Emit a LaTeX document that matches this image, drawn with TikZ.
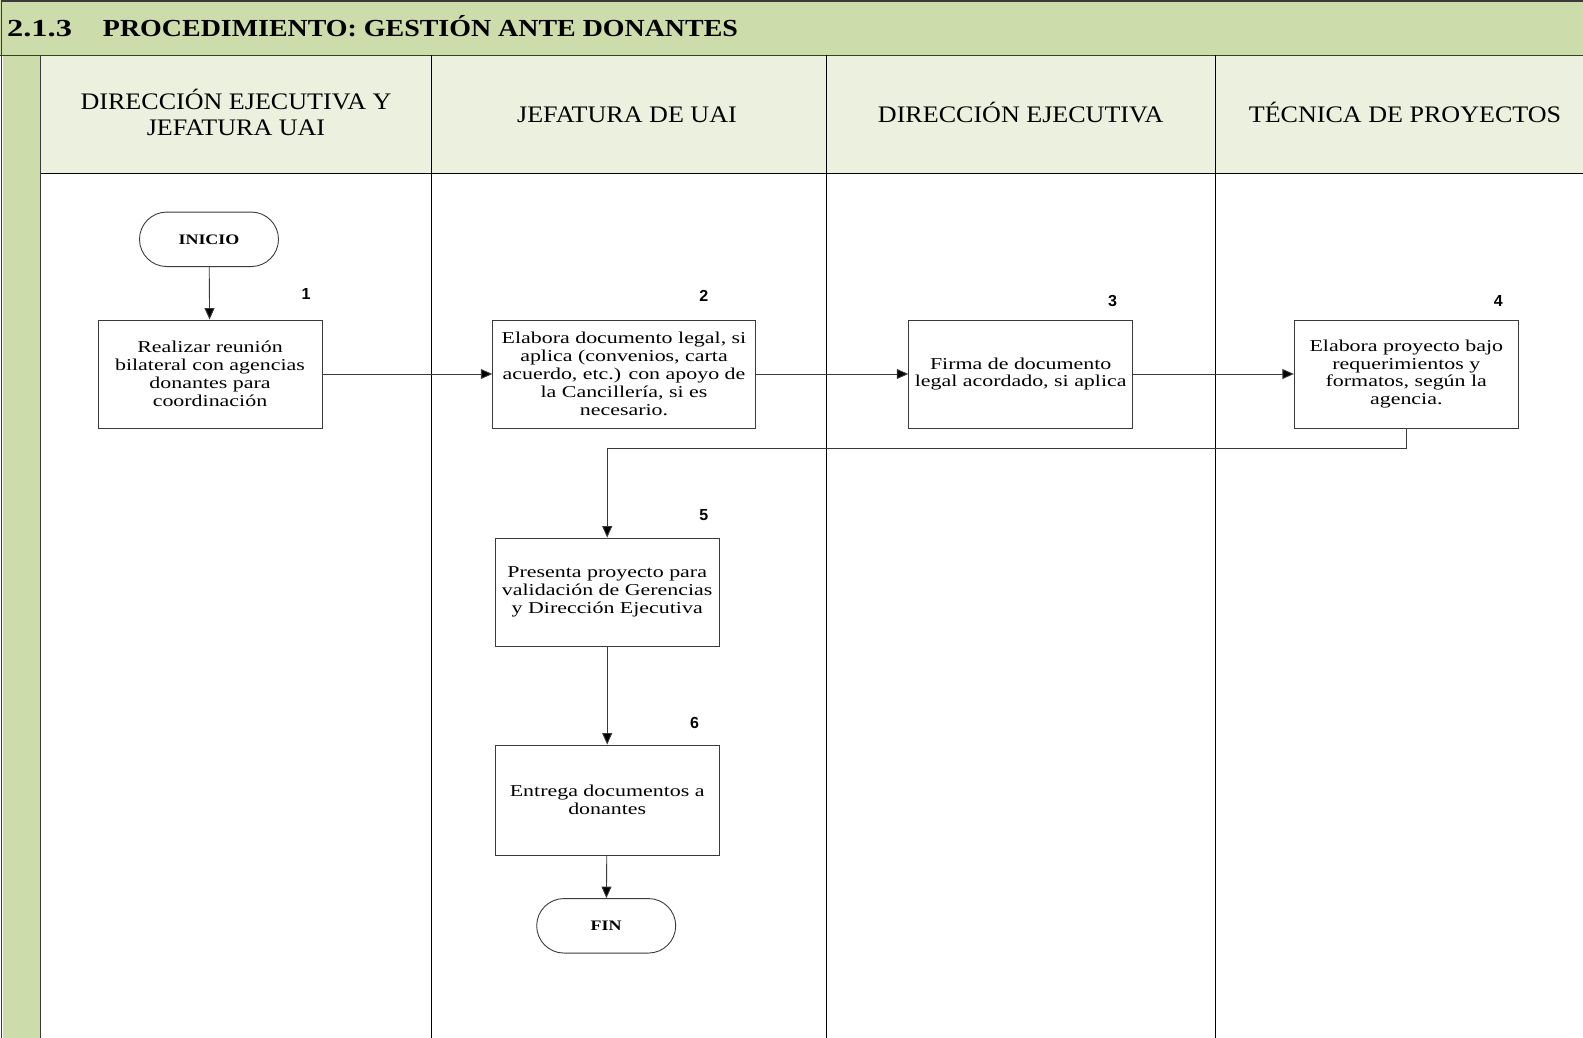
\documentclass[tikz,border=0pt]{standalone}
\usepackage{fontspec}
\setmainfont{Liberation Serif}
\newfontfamily\titlefont[FakeStretch=1.14]{Liberation Serif}
\newfontfamily\termfont[FakeStretch=1.24]{Liberation Serif}
\newfontfamily\headfont[FakeStretch=1.1]{Liberation Serif}
\newfontfamily\boxfont[FakeStretch=1.32]{Liberation Serif}
\newfontfamily\numfont{Liberation Sans}
\usetikzlibrary{arrows.meta,shapes.misc}
\definecolor{bargreen}{HTML}{CDDCAB}
\definecolor{headgreen}{HTML}{EBF1DE}
\definecolor{edge}{HTML}{3A3A3A}
\tikzset{
  frame/.style={draw=edge,line width=1.4pt},
  lane/.style={draw=black,line width=0.9pt},
  stepbox/.style={draw=edge,line width=0.9pt,rectangle,minimum width=224pt,minimum height=108pt,
    inner sep=2pt,align=center,font=\boxfont\fontsize{16.6}{17.9}\selectfont},
  terminal/.style={draw=edge,line width=0.9pt,rounded rectangle,minimum width=139pt,minimum height=54.5pt,
    inner sep=0pt,font=\termfont\bfseries\fontsize{14.5}{16}\selectfont},
  stepnum/.style={font=\numfont\bfseries\fontsize{16}{17}\selectfont,inner sep=0pt},
  lanehead/.style={align=center,inner sep=0pt,anchor=base,font=\headfont\fontsize{23.7}{26.3}\selectfont},
  arr/.style={draw=edge,line width=0.9pt,-{Triangle[length=11.5pt,width=10pt,fill=black]}}
}
\begin{document}
\begin{tikzpicture}[x=1pt,y=-1pt]
\useasboundingbox (0,0) rectangle (1583,1038);
% title bar, side strip and lane header band
\fill[bargreen] (0,0) rectangle (1583,55.5);
\fill[headgreen] (40.5,55.5) rectangle (1583,173.7);
\fill[bargreen] (2.5,55.5) rectangle (40.5,1038);
\draw[frame] (1.5,1.2) -- (1583,1.2);
\draw[frame] (1.5,0) -- (1.5,1038);
\draw[frame] (0,55.5) -- (1583,55.5);
\draw[frame] (40.5,55.5) -- (40.5,1038);
\draw[lane] (40.5,173.7) -- (1583,173.7);
\draw[lane] (431,55.5) -- (431,1038);
\draw[lane] (826,55.5) -- (826,1038);
\draw[lane] (1215.6,55.5) -- (1215.6,1038);
\node[anchor=base west,inner sep=0pt,font=\titlefont\bfseries\fontsize{24.5}{26}\selectfont] (title) at (7,36.5)
  {\scalebox{1.16}[1]{2.1.3}\hspace{31pt}PROCEDIMIENTO: GESTIÓN ANTE DONANTES};
% lane headings (base = baseline of the last line)
\node[lanehead] (h1) at (236,135.5) {DIRECCIÓN EJECUTIVA Y\\JEFATURA UAI};
\node[lanehead] (h2) at (627,123) {JEFATURA DE UAI};
\node[lanehead] (h3) at (1020.7,123) {DIRECCIÓN EJECUTIVA};
\node[lanehead] (h4) at (1405,123) {TÉCNICA DE PROYECTOS};
% flow steps
\node[terminal] (inicio) at (209,239.3) {INICIO};
\node[stepbox] (b1) at (210,374) {Realizar reunión\\bilateral con agencias\\donantes para\\coordinación};
\node[stepbox,minimum width=262.5pt] (b2) at (624,374) {Elabora documento legal, si\\aplica (convenios, carta\\acuerdo, etc.) con apoyo de\\la Cancillería, si es\\necesario.};
\node[stepbox] (b3) at (1020.7,374) {Firma de documento\\legal acordado, si aplica};
\node[stepbox] (b4) at (1406.3,374) {Elabora proyecto bajo\\requerimientos y\\formatos, según la\\agencia.};
\node[stepbox] (b5) at (607.2,592) {Presenta proyecto para\\validación de Gerencias\\y Dirección Ejecutiva};
\node[stepbox,minimum height=110pt] (b6) at (607.2,800) {Entrega documentos a\\donantes};
\node[terminal] (fin) at (606.2,925.8) {FIN};
% step numbers
\node[stepnum] (n1) at (306,293.8) {1};
\node[stepnum] (n2) at (703.7,295.8) {2};
\node[stepnum] (n3) at (1112.6,300.9) {3};
\node[stepnum] (n4) at (1498.2,300.9) {4};
\node[stepnum] (n5) at (703.7,514.9) {5};
\node[stepnum] (n6) at (694.6,722.9) {6};
% connectors
\draw[arr] (inicio) -- (b1);
\draw[arr] (b1) -- (b2);
\draw[arr] (b2) -- (b3);
\draw[arr] (b3) -- (b4);
\draw[arr] (b4.south) -- ++(0,20.3) -| (b5.north);
\draw[arr] (b5) -- (b6);
\draw[arr] (b6) -- (fin);
\end{tikzpicture}
\end{document}
